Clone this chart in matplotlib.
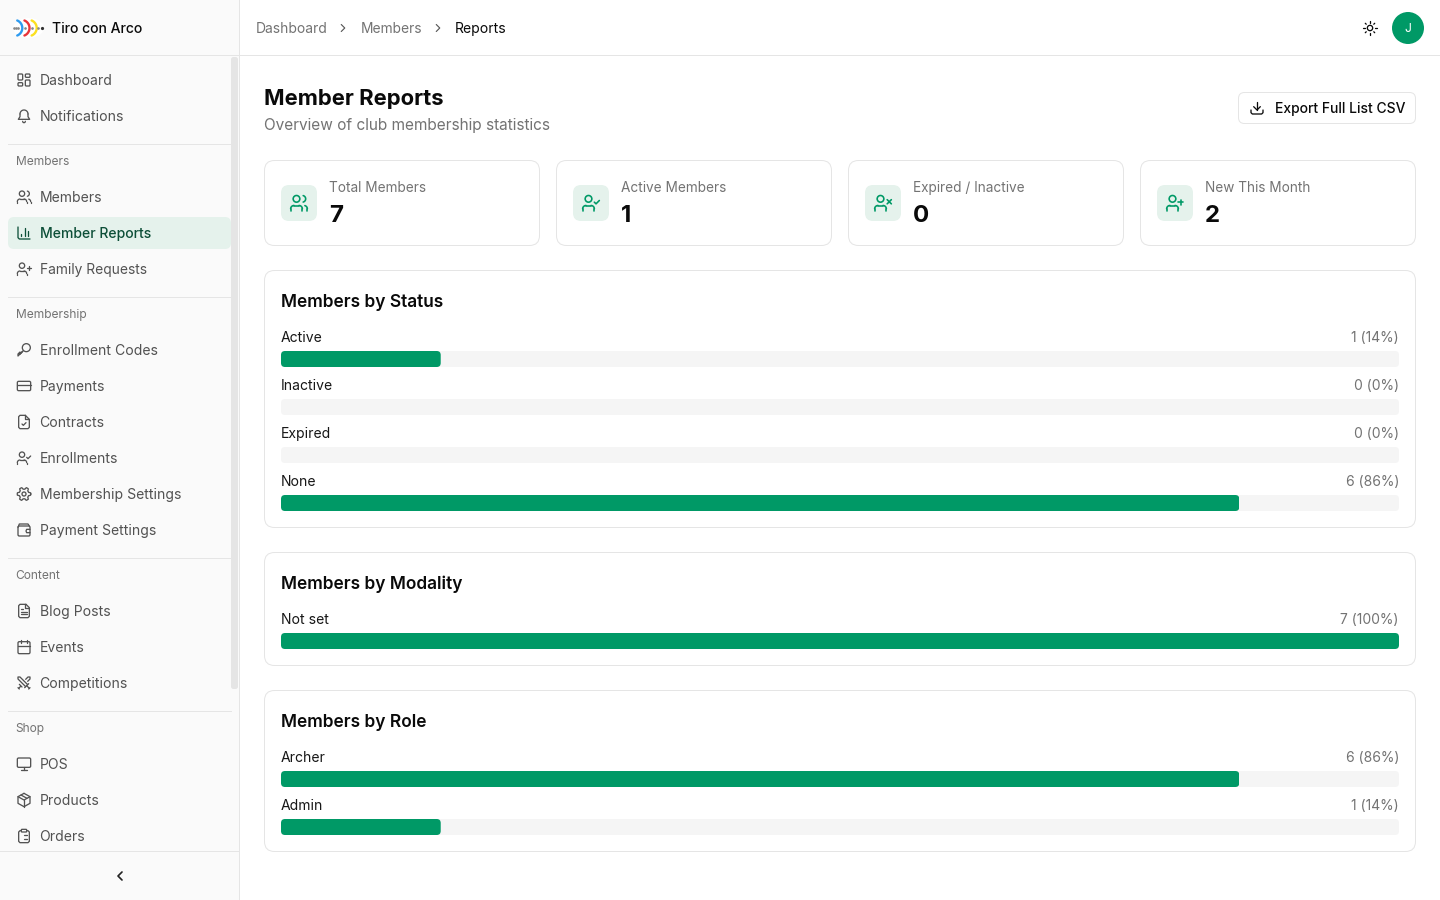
import numpy as np
import matplotlib
matplotlib.use("Agg")
import matplotlib.pyplot as plt
from matplotlib.patches import FancyBboxPatch, Circle, Ellipse, Rectangle

plt.rcParams['font.family'] = ['Inter', 'DejaVu Sans']

# ---- data ----
total_members = 7
status_labels = ["Active", "Inactive", "Expired", "None"]
status_values = [1, 0, 0, 6]
modality_labels = ["Not set"]
modality_values = [7]
role_labels = ["Archer", "Admin"]
role_values = [6, 1]

kpi_labels = ["Total Members", "Active Members", "Expired / Inactive", "New This Month"]
kpi_values = [7, 1, 0, 2]
kpi_icons = ["users", "ucheck", "ux", "uplus"]

breadcrumbs = ["Dashboard", "Members", "Reports"]

nav_top = [("Dashboard", 80, "dash"), ("Notifications", 116, "bell")]
nav_groups = [
    ("Members", 161, 144, [("Members", 197, "users"), ("Member Reports", 233, "chart"), ("Family Requests", 269, "uplus")]),
    ("Membership", 314, 297, [("Enrollment Codes", 350, "key"), ("Payments", 386, "card"), ("Contracts", 422, "filecheck"),
                              ("Enrollments", 458, "ucheck"), ("Membership Settings", 494, "gear"), ("Payment Settings", 530, "wallet")]),
    ("Content", 575, 558, [("Blog Posts", 611, "file"), ("Events", 647, "cal"), ("Competitions", 683, "swords")]),
    ("Shop", 728, 711, [("POS", 764, "monitor"), ("Products", 800, "box"), ("Orders", 836, "clip")]),
]

GREEN = "#009966"
TINT = "#e5f2ec"
BORDER = "#e5e5e5"
TRACK = "#f5f5f5"
INK = "#0a0a0a"
MUTED = "#737373"
SIDE = "#525252"


def px(v):
    return v * 0.72


fig = plt.figure(figsize=(14.4, 9), dpi=100, facecolor="white")
P = fig.add_axes([0, 0, 1, 1], zorder=0)
P.set_xlim(0, 1440)
P.set_ylim(900, 0)
P.axis("off")


def T(x, y, s, size, color=INK, weight="normal", ha="left", **kw):
    # y is the visual centre of the capitals; the baseline keeps rows consistent
    return P.text(x, y + round(0.36 * size), s, fontsize=px(size), color=color, fontweight=weight,
                  ha=ha, va="baseline", zorder=6, **kw)


def box(x0, y0, x1, y1, r, fc="white", ec="none", lw=1.0, z=2):
    b = FancyBboxPatch((x0, y0), x1 - x0, y1 - y0, boxstyle=f"round,pad=0,rounding_size={r}",
                       fc=fc, ec=ec, lw=lw * 0.72, zorder=z)
    P.add_patch(b)
    return b


# ---- icon primitives on a 24-unit grid ----
def icon(name, cx, cy, size=16, color=SIDE, lw=1.0):
    s = size / 24.0
    w = lw * 0.72 * 1.3 * size / 16
    X = lambda x: cx + (x - 12) * s
    Y = lambda y: cy + (y - 12) * s

    def L(*pts):
        P.plot([X(p[0]) for p in pts], [Y(p[1]) for p in pts], color=color, lw=w,
               solid_capstyle="round", solid_joinstyle="round", zorder=7)

    def C(x, y, r):
        P.add_patch(Circle((X(x), Y(y)), r * s, fc="none", ec=color, lw=w, zorder=7))

    def A(x, y, r, a0, a1):
        t = np.radians(np.linspace(a0, a1, 24))
        P.plot(X(x) + r * s * np.cos(t), Y(y) + r * s * np.sin(t), color=color, lw=w,
               solid_capstyle="round", zorder=7)

    def R(x0, y0, x1, y1, r=2):
        P.add_patch(FancyBboxPatch((X(x0), Y(y0)), (x1 - x0) * s, (y1 - y0) * s,
                                   boxstyle=f"round,pad=0,rounding_size={r * s}", fc="none", ec=color,
                                   lw=w, zorder=7))

    def person(px0=9):
        C(px0, 7, 4)
        A(px0 - 3, 19, 4, 180, 270)
        L((px0 - 3, 15), (px0 + 3, 15))
        A(px0 + 3, 19, 4, 270, 360)
        L((px0 - 7, 19), (px0 - 7, 21))
        L((px0 + 7, 19), (px0 + 7, 21))

    if name == "users":
        person()
        A(16, 7, 4, -75, 75)
        A(18, 19, 4, -75, 0)
        L((22, 19), (22, 21))
    elif name == "ucheck":
        person()
        L((16, 11), (18, 13), (22, 9))
    elif name == "ux":
        person()
        L((17, 8), (22, 13))
        L((22, 8), (17, 13))
    elif name == "uplus":
        person()
        L((19, 8), (19, 14))
        L((16, 11), (22, 11))
    elif name == "dash":
        R(3, 3, 10, 12, 1.5)
        R(14, 3, 21, 8, 1.5)
        R(14, 12, 21, 21, 1.5)
        R(3, 16, 10, 21, 1.5)
    elif name == "bell":
        A(12, 9, 6, 180, 360)
        L((6, 9), (6, 13), (3.5, 17), (20.5, 17), (18, 13), (18, 9))
        A(12, 20, 2, 0, 180)
    elif name == "chart":
        L((3, 3), (3, 19), (5, 21), (21, 21))
        L((8, 17), (8, 14))
        L((13, 17), (13, 5))
        L((18, 17), (18, 9))
    elif name == "key":
        C(15.5, 8.5, 6)
        L((11, 13), (3, 21), (3, 18), (6, 15), (6, 18), (9, 15))
        L((16.5, 7.5), (16.6, 7.5))
    elif name == "card":
        R(2, 5, 22, 19)
        L((2, 10), (22, 10))
    elif name == "filecheck":
        L((14, 2), (6, 2), (4, 4), (4, 20), (6, 22), (18, 22), (20, 20), (20, 8), (14, 2))
        L((14, 2), (14, 8), (20, 8))
        L((9, 15), (11, 17), (15, 13))
    elif name == "gear":
        C(12, 12, 3)
        t = np.radians(np.linspace(0, 360, 181))
        r = 8.7 + 1.4 * np.clip(2.2 * np.cos(6 * t), -1, 1)
        P.plot(X(12 + r * np.cos(t)), Y(12 + r * np.sin(t)), color=color, lw=w,
               solid_joinstyle="round", zorder=7)
    elif name == "wallet":
        R(3, 6, 21, 21)
        L((3, 8), (5, 3), (18, 3), (20, 6))
        L((21, 11), (16, 11), (15, 13.5), (16, 16), (21, 16))
    elif name == "file":
        L((15, 2), (6, 2), (4, 4), (4, 20), (6, 22), (18, 22), (20, 20), (20, 7), (15, 2))
        L((14, 2), (14, 8), (20, 8))
        L((8, 13), (16, 13))
        L((8, 17), (16, 17))
        L((8, 9), (10, 9))
    elif name == "cal":
        R(3, 4, 21, 22)
        L((8, 2), (8, 6))
        L((16, 2), (16, 6))
        L((3, 10), (21, 10))
    elif name == "swords":
        L((14.5, 17.5), (3, 6), (3, 3), (6, 3), (17.5, 14.5))
        L((13, 19), (19, 13))
        L((16, 16), (20, 20))
        L((19, 21), (21, 19))
        L((14.5, 6.5), (18, 3), (21, 3), (21, 6), (17.5, 9.5))
        L((5, 14), (9, 18))
        L((7, 17), (4, 20))
        L((3, 19), (5, 21))
    elif name == "monitor":
        R(2, 3, 22, 17)
        L((8, 21), (16, 21))
        L((12, 17), (12, 21))
    elif name == "box":
        L((12, 2), (21, 7), (21, 17), (12, 22), (3, 17), (3, 7), (12, 2))
        L((3, 7), (12, 12), (21, 7))
        L((12, 12), (12, 22))
        L((7.5, 4.5), (16.5, 9.5))
    elif name == "clip":
        R(8, 2, 16, 6, 1)
        L((16, 4), (18, 4), (20, 6), (20, 20), (18, 22), (6, 22), (4, 20), (4, 6), (6, 4), (8, 4))
        L((12, 11), (16, 11))
        L((12, 16), (16, 16))
        L((8, 11), (8.1, 11))
        L((8, 16), (8.1, 16))
    elif name == "sun":
        C(12, 12, 4)
        for a in np.radians(np.arange(0, 360, 45)):
            L((12 + 8 * np.cos(a), 12 + 8 * np.sin(a)), (12 + 10 * np.cos(a), 12 + 10 * np.sin(a)))
    elif name == "download":
        L((12, 3), (12, 15))
        L((7, 10), (12, 15), (17, 10))
        L((3, 15), (3, 19), (5, 21), (19, 21), (21, 19), (21, 15))
    elif name == "chev":
        L((9, 6), (15, 12), (9, 18))
    elif name == "chevl":
        L((15, 6), (9, 12), (15, 18))


# ---- sidebar ----
P.add_patch(Rectangle((0, 0), 239, 900, fc="#fafafa", ec="none", zorder=1))
P.plot([239, 239], [0, 900], color=BORDER, lw=0.72, zorder=3)
P.plot([0, 1440], [55, 55], color=BORDER, lw=0.72, zorder=3)
P.plot([0, 239], [851, 851], color=BORDER, lw=0.72, zorder=3)
box(231, 57, 238, 689, 2.5, fc="#e5e5e5", z=2)

# logo
P.add_patch(Ellipse((28.5, 28), 31, 20, fc="white", ec="none", zorder=4))
for x0, col in zip([14.2, 21.4, 28.6], ["#2e9bf0", "#e8343a", "#fbe021"]):
    t = np.radians(np.linspace(-68, 68, 24))
    P.plot(x0 + 8.1 * np.cos(t), 28 + 8.1 * np.sin(t), color=col, lw=1.7, solid_capstyle="round", zorder=5)
P.plot([14, 16, 18, 25, 32, 38], [28] * 6, ls="none", marker="o", ms=0.9, color="#888888", zorder=6)
P.plot([42], [28], ls="none", marker="o", ms=1.3, color="#333333", zorder=6)
T(52, 28, "Tiro con Arco", 14, INK, weight="medium")

for label, y, ic in nav_top:
    icon(ic, 24, y)
    T(40, y, label, 14.1 if label == "Notifications" else 14, SIDE)

for title, ty, ly, items in nav_groups:
    P.plot([8, 230.5], [ly, ly], color=BORDER, lw=0.72, zorder=3)
    T(15.6 if title[0] in "CS" else 16, ty, title, 12, MUTED)
    for label, y, ic in items:
        active = label == "Member Reports"
        if active:
            box(8, y - 16, 231, y + 16, 6, fc=TINT, z=3)
        col = "#0d4f38" if active else SIDE
        icon(ic, 24, y, color=col)
        lx = 39.4 if label[0] in "CO" else 40
        T(lx, y, label, 13.8 if label == "Family Requests" else 14, col, weight="medium" if active else "normal")

icon("chevl", 120, 876, size=16, color="#222222", lw=1.3)

# ---- top bar ----
T(256, 28, breadcrumbs[0], 13.85, MUTED)
icon("chev", 343, 28, size=14, color="#555555")
T(360.5, 28, breadcrumbs[1], 13.8, MUTED)
icon("chev", 438, 28, size=14, color="#555555")
T(455, 28, breadcrumbs[2], 14, INK)
icon("sun", 1370, 28, size=16, color=INK)
P.add_patch(Circle((1408, 28), 16, fc=GREEN, ec="none", zorder=4))
T(1408, 28, "J", 12, "white", ha="center")

# ---- heading ----
T(264, 97, "Member Reports", 22, INK, weight="bold")
T(264, 124, "Overview of club membership statistics", 15.4, MUTED)

box(1238.5, 92.5, 1415.5, 123.5, 6, fc="white", ec=BORDER)
icon("download", 1257, 108, color=INK)
T(1275, 108, "Export Full List CSV", 13.9, INK, weight="medium")

# ---- KPI cards ----
for i, (lab, val, ic) in enumerate(zip(kpi_labels, kpi_values, kpi_icons)):
    x0 = 264.5 + 292 * i
    box(x0, 160.5, x0 + 275, 245.5, 10, fc="white", ec=BORDER)
    box(x0 + 16.5, 185, x0 + 52.5, 221, 8, fc=TINT, z=3)
    icon(ic, x0 + 34.5, 203, size=20, color=GREEN)
    T(x0 + 64.5, 187, lab, 13.6, MUTED)
    T(x0 + 64.5, 213, str(val), 24, INK, weight="bold")


# ---- sections with real bar axes ----
def section(title, top, bottom, labels, values):
    box(264.5, top + .5, 1415.5, bottom - .5, 10, fc="white", ec=BORDER)
    T(281, top + 31, title, 17.35, INK, weight="semibold")
    first = top + 57
    n = len(labels)
    H = 48 * n
    ax = fig.add_axes([281 / 1440, 1 - (first + H) / 900, 1118 / 1440, H / 900], zorder=5)
    ax.set_xlim(0, total_members)
    ax.set_ylim(n - 0.5, -0.5)
    ax.patch.set_alpha(0)
    ax.axis("off")
    y = np.arange(n)
    h = 16 / 48
    off = 8 / 48  # bar sits in the lower half of each row
    tracks = ax.barh(y + off, [total_members] * n, height=h, color=TRACK, zorder=1)
    bars = ax.barh(y + off, values, height=h, color=GREEN, zorder=2)
    for patch_set in (tracks, bars):
        for r in patch_set:
            w = r.get_width()
            if w <= 0:
                continue
            (dx0, dy0), (dx1, dy1) = ax.transData.transform(
                [(r.get_x(), r.get_y()), (r.get_x() + w, r.get_y() + r.get_height())])
            clip = FancyBboxPatch((dx0, min(dy0, dy1)), dx1 - dx0, abs(dy1 - dy0),
                                  boxstyle="round,pad=0,rounding_size=4", transform=None)
            r.set_clip_path(clip)
    for i, (lab, v) in enumerate(zip(labels, values)):
        ypx = first + 48 * i + 10
        T(281, ypx, lab, 14, "#171717")
        T(1399, ypx, f"{v} ({round(100 * v / total_members)}%)", 13.85, MUTED, ha="right")


section("Members by Status", 270, 528, status_labels, status_values)
section("Members by Modality", 552, 666, modality_labels, modality_values)
section("Members by Role", 690, 852, role_labels, role_values)

fig.savefig("out.png", dpi=100, facecolor="white")
